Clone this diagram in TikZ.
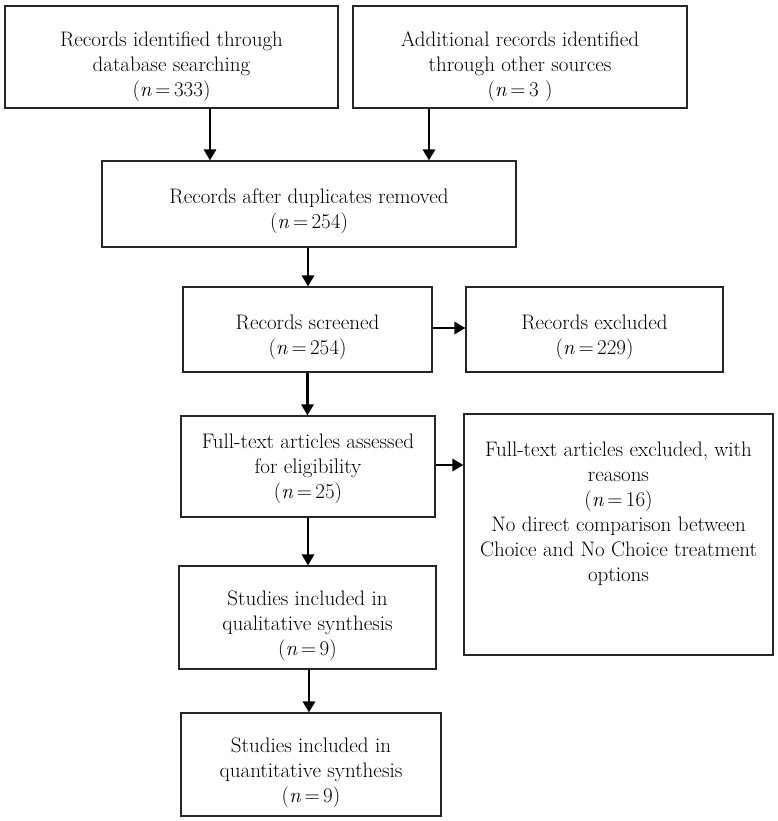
\documentclass[tikz,border=0pt]{standalone}
\usetikzlibrary{arrows.meta}
\tikzset{
  box/.style={draw=black!85, line width=1.1pt, inner sep=0pt},
  txt/.style={align=center, inner sep=0pt, font=\fontsize{21}{25}\selectfont},
  arr/.style={line width=2.8pt, -{Triangle[length=11pt,width=12pt]}, black}
}
\newcommand{\nn}[1]{(\textit{n}\,=\,#1)}
\begin{document}
\begin{tikzpicture}[x=1pt,y=-1pt]
\useasboundingbox (0,0) rectangle (777,821);
\node[box, minimum width=333pt, minimum height=102pt] (b1) at (171.5,57) {};
\node[txt] (b1t) at (171.5,67)
  {Records identified through\\database searching\\\nn{333}};
\node[box, minimum width=334pt, minimum height=102pt] (b2) at (520,57) {};
\node[txt] (b2t) at (520,67)
  {Additional records identified\\through other sources\\(\textit{n}\,=\,3 )};
\node[box, minimum width=414pt, minimum height=86pt] (b3) at (309,204) {};
\node[txt] (b3t) at (309,211)
  {Records after duplicates removed\\\nn{254}};
\node[box, minimum width=249pt, minimum height=85pt] (b4) at (307.5,329.5) {};
\node[txt] (b4t) at (307.5,337)
  {Records screened\\\nn{254}};
\node[box, minimum width=257pt, minimum height=85pt] (b5) at (594.5,329.5) {};
\node[txt] (b5t) at (594.5,337)
  {Records excluded\\\nn{229}};
\node[box, minimum width=254pt, minimum height=101pt] (b6) at (308,466.5) {};
\node[txt] (b6t) at (308,469)
  {Full-text articles assessed\\for eligibility\\\nn{25}};
\node[box, minimum width=309pt, minimum height=241pt] (b7) at (618.5,534.5) {};
\node[txt] (b7t) at (618.5,514)
  {Full-text articles excluded, with\\reasons\\\nn{16}\\No direct comparison between\\Choice and No Choice treatment\\options};
\node[box, minimum width=257pt, minimum height=103pt] (b8) at (307.5,617.5) {};
\node[txt] (b8t) at (307.5,626)
  {Studies included in\\qualitative synthesis\\\nn{9}};
\node[box, minimum width=260pt, minimum height=103pt] (b9) at (311,764.5) {};
\node[txt] (b9t) at (311,773)
  {Studies included in\\quantitative synthesis\\\nn{9}};
\draw[arr] ([xshift=38.5pt]b1.south) -- ([xshift=38.5pt]b1.south |- b3.north);
\draw[arr] ([xshift=-91pt]b2.south) -- ([xshift=-91pt]b2.south |- b3.north);
\draw[arr] ([xshift=-1pt]b3.south) -- ([xshift=-1pt]b3.south |- b4.north);
\draw[arr] (b4.south) -- (b4.south |- b6.north);
\draw[arr] (b6.south) -- (b6.south |- b8.north);
\draw[arr] ([xshift=1.5pt]b8.south) -- ([xshift=1.5pt]b8.south |- b9.north);
\draw[arr] ([yshift=1.5pt]b4.east) -- ([yshift=1.5pt]b4.east -| b5.west);
\draw[arr] ([yshift=1.5pt]b6.east) -- ([yshift=1.5pt]b6.east -| b7.west);
\end{tikzpicture}
\end{document}
